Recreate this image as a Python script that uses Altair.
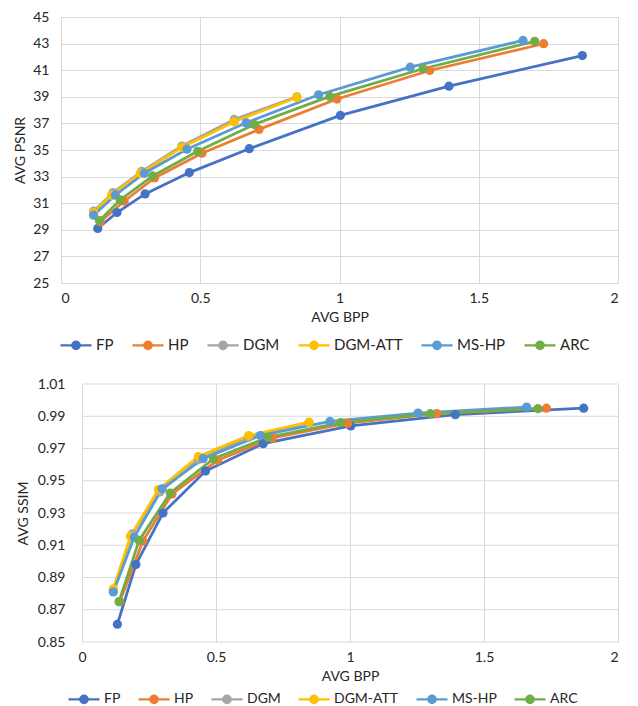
import altair as alt
import pandas as pd

series = ["FP", "HP", "DGM", "DGM-ATT", "MS-HP", "ARC"]
colors = ["#4472C4", "#ED7D31", "#A5A5A5", "#FFC000", "#5B9BD5", "#70AD47"]

bpp_fp = [0.132, 0.201, 0.302, 0.461, 0.676, 1.003, 1.393, 1.872]
psnr_fp = [29.1, 30.3, 31.7, 33.3, 35.1, 37.6, 39.8, 42.1]
ssim_fp = [0.861, 0.898, 0.930, 0.956, 0.973, 0.984, 0.991, 0.995]

bpp_hp = [0.141, 0.227, 0.336, 0.506, 0.711, 0.991, 1.324, 1.733]
psnr_hp = [29.6, 31.15, 32.9, 34.76, 36.55, 38.83, 40.98, 42.99]
ssim_hp = [0.875, 0.9125, 0.9418, 0.9627, 0.9765, 0.9857, 0.9916, 0.995]

bpp_dgm = [0.117, 0.187, 0.290, 0.434, 0.622, 0.847]
psnr_dgm = [30.4, 31.8, 33.4, 35.3, 37.3, 39.0]
ssim_dgm = [0.882, 0.917, 0.943, 0.963, 0.977, 0.986]

bpp_att = [0.117, 0.181, 0.285, 0.434, 0.622, 0.847]
psnr_att = [30.3, 31.6, 33.25, 35.19, 37.12, 38.95]
ssim_att = [0.883, 0.9156, 0.9445, 0.965, 0.978, 0.9863]

bpp_ms = [0.117, 0.195, 0.299, 0.452, 0.665, 0.925, 1.254, 1.659]
psnr_ms = [30.1, 31.6, 33.25, 35.06, 37.04, 39.15, 41.23, 43.24]
ssim_ms = [0.881, 0.915, 0.945, 0.9637, 0.978, 0.9868, 0.992, 0.9957]

bpp_arc = [0.138, 0.213, 0.329, 0.491, 0.694, 0.965, 1.300, 1.701]
psnr_arc = [29.7, 31.25, 33.05, 34.9, 36.92, 39.03, 41.11, 43.17]
ssim_arc = [0.875, 0.913, 0.9424, 0.9637, 0.977, 0.986, 0.9916, 0.9947]

x_ticks = [0, 0.5, 1, 1.5, 2]
psnr_ticks = [25, 27, 29, 31, 33, 35, 37, 39, 41, 43, 45]
ssim_ticks = [0.85, 0.87, 0.89, 0.91, 0.93, 0.95, 0.97, 0.99, 1.01]

table = {
    "FP": (bpp_fp, psnr_fp, ssim_fp),
    "HP": (bpp_hp, psnr_hp, ssim_hp),
    "DGM": (bpp_dgm, psnr_dgm, ssim_dgm),
    "DGM-ATT": (bpp_att, psnr_att, ssim_att),
    "MS-HP": (bpp_ms, psnr_ms, ssim_ms),
    "ARC": (bpp_arc, psnr_arc, ssim_arc),
}
rows = []
for s in series:
    b, p, q = table[s]
    for bb, pp, qq in zip(b, p, q):
        rows.append({"series": s, "bpp": bb, "psnr": pp, "ssim": qq})
df = pd.DataFrame(rows)
grid_df = pd.DataFrame({"ssim": ssim_ticks, "x0": 0.0, "x1": 2.0})

FONT = "Lato"
TXT = "#262626"
GRID = "#D9D9D9"
sym = "M-1,0L1,0M-0.24,0A0.24,0.24 0 1,0 0.24,0A0.24,0.24 0 1,0 -0.24,0Z"


def make_legend(lx, ly, lfs, cpad):
    return alt.Legend(
        title=None, orient="none", legendX=lx, legendY=ly, direction="horizontal",
        columns=6, symbolType=sym, symbolSize=961, symbolStrokeWidth=2.25,
        labelFont=FONT, labelFontSize=lfs, labelColor=TXT, columnPadding=cpad,
        labelOffset=3, symbolOpacity=1,
    )


def line_layer(data, x, y, legend):
    color = alt.Color("series:N", scale=alt.Scale(domain=series, range=colors),
                      sort=series, legend=legend)
    return (
        alt.Chart(data)
        .mark_line(strokeWidth=2.75,
                   point=alt.OverlayMarkDef(filled=True, size=85, opacity=1))
        .encode(x=x, y=y, color=color)
    )


# ---- top panel (PSNR)
x_top = alt.X("bpp:Q", scale=alt.Scale(domain=[0, 2], nice=False),
              axis=alt.Axis(values=x_ticks, format="~g", title="AVG BPP",
                            labelPadding=8, titlePadding=5))
y_top = alt.Y("psnr:Q", scale=alt.Scale(domain=[25, 45], nice=False, zero=False),
              axis=alt.Axis(values=psnr_ticks, format="d", title="AVG PSNR",
                            labelPadding=12, titlePadding=5, labelOverlap=False))
top = line_layer(df, x_top, y_top, make_legend(-2, 311, 15, 14)).properties(
    width=557, height=266)

# ---- bottom panel (SSIM): plot area extended to the left, axis shifted back
W_B = 536
SHIFT = 21
x_left = -SHIFT * 2.0 / W_B
x_axis_b = alt.Axis(values=x_ticks, format="~g", title="AVG BPP",
                    labelPadding=8, titlePadding=5, domain=False,
                    titleX=SHIFT + W_B / 2)
x_bot = alt.X("bpp:Q", scale=alt.Scale(domain=[x_left, 2], nice=False), axis=x_axis_b)
y_bot = alt.Y("ssim:Q", scale=alt.Scale(domain=[0.85, 1.01], nice=False, zero=False),
              axis=alt.Axis(values=ssim_ticks, format=".2f", title="AVG SSIM",
                            labelPadding=17, titlePadding=7, grid=False,
                            domain=False, offset=-SHIFT, labelOverlap=False))
grid_rules = alt.Chart(grid_df).mark_rule(color=GRID, strokeWidth=1).encode(
    x=alt.X("x0:Q", scale=alt.Scale(domain=[x_left, 2], nice=False), axis=x_axis_b),
    x2="x1:Q", y=y_bot)
bottom = alt.layer(
    grid_rules,
    line_layer(df, x_bot, y_bot, make_legend(6, 298, 14, 13)),
).properties(width=W_B + SHIFT, height=258)

chart = (
    alt.vconcat(top, bottom, spacing=23)
    .resolve_scale(color="independent", x="independent", y="independent")
    .resolve_legend(color="independent")
    .properties(padding={"left": 5, "top": 2, "right": 5, "bottom": 0})
    .configure_view(strokeWidth=0)
    .configure_axis(
        grid=True, gridColor=GRID, gridWidth=1, domainColor=GRID,
        ticks=False, labelFont=FONT, labelFontSize=14, labelColor=TXT,
        titleFont=FONT, titleFontSize=14, titleFontWeight="normal", titleColor=TXT,
    )
)

chart.save("out.html", embed_options={"renderer": "svg", "actions": False})
